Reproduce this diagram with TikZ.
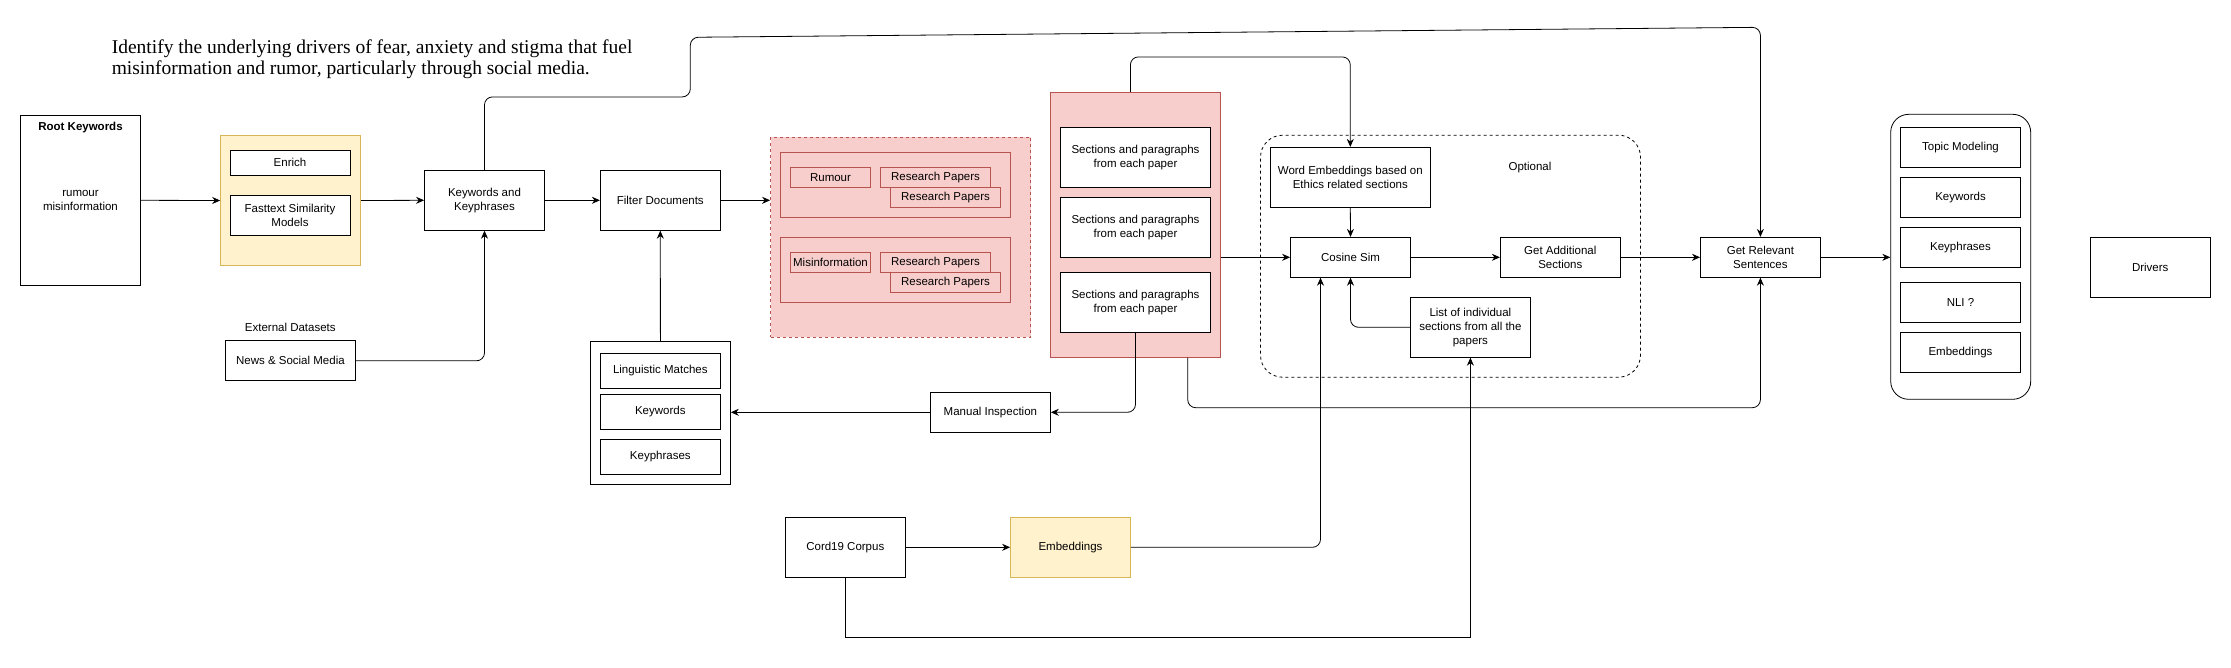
\documentclass[tikz,border=0pt]{standalone}
\usepackage{fontspec}
\setmainfont{Liberation Serif}
\setsansfont{Liberation Sans}
\usepackage{tikz}
\usetikzlibrary{arrows.meta, calc}
\definecolor{PaleYellow}{HTML}{FFF2CC}
\definecolor{GoldEdge}{HTML}{D6B656}
\definecolor{PalePink}{HTML}{F8CECC}
\definecolor{BrickRed}{HTML}{B85450}
\newcommand{\boxfont}{\sffamily\fontsize{11.5}{14}\selectfont}
\tikzset{
  procbox/.style={draw, fill=white, align=center, inner sep=1pt, font=\boxfont,
                  minimum width=120pt, minimum height=40pt, line width=0.8pt},
  yellowbox/.style={procbox, draw=GoldEdge, fill=PaleYellow},
  groupbox/.style={draw, fill=white, inner sep=0pt, line width=0.8pt},
  pinkgroup/.style={draw=BrickRed, fill=PalePink, inner sep=0pt, line width=0.8pt},
  paperbox/.style={procbox, draw=BrickRed, fill=PalePink, minimum width=110pt,
                   minimum height=20pt},
  conn/.style={-{Stealth[length=8pt,width=7pt]}, line width=0.8pt, rounded corners=8pt},
  plainlabel/.style={font=\boxfont, inner sep=0pt}
}

\begin{document}
\begin{tikzpicture}[x=1pt, y=-1pt]
    \useasboundingbox[fill=white] (0,0) rectangle (2231,667);

    % Goal statement
    \node[anchor=north west, inner sep=0pt, align=left,
          font=\fontsize{19.5}{21}\selectfont] (goal) at (111.6,40) {
        Identify the underlying drivers of fear, anxiety and stigma that fuel\\
        misinformation and rumor, particularly through social media.
    };

    % Keyword stage
    \node[procbox, minimum height=170pt] (root) at (80.5,200.3) {rumour\\misinformation};
    \node[plainlabel, font=\boxfont\bfseries] (roottitle) at (80.5,127.7) {Root Keywords};
    \node[groupbox, draw=GoldEdge, fill=PaleYellow, minimum width=140pt,
          minimum height=130pt] (enrichgrp) at (290.6,200.5) {};
    \node[procbox, minimum height=25pt] (enrich) at (290,162.8) {Enrich};
    \node[procbox] (fasttext) at (290,215.5) {Fasttext Similarity\\Models};
    \node[procbox, minimum height=60pt] (kwphr) at (484.5,200.3) {Keywords and\\Keyphrases};
    \node[procbox, minimum height=60pt] (filter) at (660.3,200.3) {Filter Documents};
    \node[procbox, minimum width=130pt] (news) at (290.4,360.8) {News \& Social Media};
    \node[plainlabel] (extlabel) at (290.3,327.7) {External Datasets};

    % Linguistic matches
    \node[groupbox, minimum width=140pt, minimum height=143pt] (linggrp) at (660.4,412.8) {};
    \node[procbox, minimum height=35pt] (lingmatch) at (660.3,370.8) {Linguistic Matches};
    \node[procbox, minimum height=35pt] (lingkw) at (660.3,411.8) {Keywords};
    \node[procbox, minimum height=35pt] (lingkp) at (660.3,456.8) {Keyphrases};

    % Filtered papers
    \node[pinkgroup, dash pattern=on 3pt off 3pt, minimum width=260pt,
          minimum height=200pt] (papergrp) at (900.5,237.3) {};
    \node[pinkgroup, minimum width=230pt, minimum height=65pt] (rumgrp) at (895.4,184.8) {};
    \node[paperbox, minimum width=80pt] (rumour) at (830.5,177.3) {Rumour};
    \node[paperbox] (rumpaperA) at (935.5,177.3) {Research Papers};
    \node[paperbox] (rumpaperB) at (945.5,197.3) {Research Papers};
    \node[pinkgroup, minimum width=230pt, minimum height=65pt] (misgrp) at (895.4,269.8) {};
    \node[paperbox, minimum width=80pt] (misinfo) at (830.5,262.3) {Misinformation};
    \node[paperbox] (mispaperA) at (935.5,262.3) {Research Papers};
    \node[paperbox] (mispaperB) at (945.5,282.3) {Research Papers};

    % Sections of each paper
    \node[pinkgroup, minimum width=170pt, minimum height=265pt] (seccol) at (1135.4,224.8) {};
    \node[procbox, minimum width=150pt, minimum height=60pt] (secA) at (1135.5,157.3) {Sections and paragraphs\\from each paper};
    \node[procbox, minimum width=150pt, minimum height=60pt] (secB) at (1135.5,227.3) {Sections and paragraphs\\from each paper};
    \node[procbox, minimum width=150pt, minimum height=60pt] (secC) at (1135.5,302.3) {Sections and paragraphs\\from each paper};
    \node[procbox] (manual) at (990.4,412.3) {Manual Inspection};

    % Optional similarity step
    \node[draw, dash pattern=on 3pt off 3pt, rounded corners=22pt, line width=0.8pt,
          minimum width=380pt, minimum height=242pt, inner sep=0pt] (optgrp) at (1450.5,256.2) {};
    \node[plainlabel] (optlabel) at (1530,167.7) {Optional};
    \node[procbox, minimum width=160pt, minimum height=60pt] (wordemb) at (1350.3,177.3) {Word Embeddings based on\\Ethics related sections};
    \node[procbox] (cosine) at (1350.5,257.3) {Cosine Sim};
    \node[procbox] (getadd) at (1560.3,257.3) {Get Additional\\Sections};
    \node[procbox, minimum height=60pt] (listsec) at (1470.4,327.3) {List of individual\\sections from all the\\papers};
    \node[procbox] (getrel) at (1760.4,257.3) {Get Relevant\\Sentences};

    % Corpus
    \node[procbox, minimum height=60pt] (cord) at (845.3,547.3) {Cord19 Corpus};
    \node[yellowbox, minimum height=60pt] (corpemb) at (1070.5,547.3) {Embeddings};

    % Analysis methods
    \node[groupbox, rounded corners=18pt, minimum width=140pt, minimum height=285pt] (methodgrp) at (1960.7,256.8) {};
    \node[procbox] (topic) at (1960.5,147.3) {Topic Modeling};
    \node[procbox] (methkw) at (1960.5,197.3) {Keywords};
    \node[procbox] (methkp) at (1960.5,247.3) {Keyphrases};
    \node[procbox] (nli) at (1960.5,302.3) {NLI ?};
    \node[procbox] (methemb) at (1960.5,352.3) {Embeddings};
    \node[procbox, minimum height=60pt] (drivers) at (2150.2,267.3) {Drivers};

    % Connectors
    \draw[conn] (root.east) -- (enrichgrp.west);
    \draw[conn] (enrichgrp.east) -- (kwphr.west);
    \draw[conn] (kwphr.east) -- (filter.west);
    \draw[conn] (filter.east) -- (filter.east -| papergrp.west);
    \draw[conn] (news.east) -| (kwphr.south);
    \draw[conn] (linggrp.north) -- (filter.south);
    \draw[conn] (manual.west) -- (manual.west -| linggrp.east);
    \draw[conn] (secC.south) |- (manual.east);
    \draw[conn] ([xshift=52.3pt]seccol.south) -- ++(0,50) -| (getrel.south);
    \draw[conn] ([xshift=-5pt]seccol.north) -- ++(0,-35) -| (wordemb.north);
    \draw[conn] (seccol.east |- cosine.west) -- (cosine.west);
    \draw[conn] (wordemb.south) -- (cosine.north);
    \draw[conn] (cosine.east) -- (getadd.west);
    \draw[conn] (getadd.east) -- (getrel.west);
    \draw[conn] (listsec.west) -| (cosine.south);
    \draw[conn] (cord.east) -- (corpemb.west);
    \draw[conn] (corpemb.east) -| ([xshift=-30pt]cosine.south);
    \draw[conn, rounded corners=0pt] (cord.south) -- ++(0,60) -| (listsec.south);
    \draw[conn] (kwphr.north) -- ++(0,-73) -| (690.3,37.3) -- ++(1070.1,-10) -- (getrel.north);
    \draw[conn] (getrel.east) -- (getrel.east -| methodgrp.west);
\end{tikzpicture}
\end{document}
